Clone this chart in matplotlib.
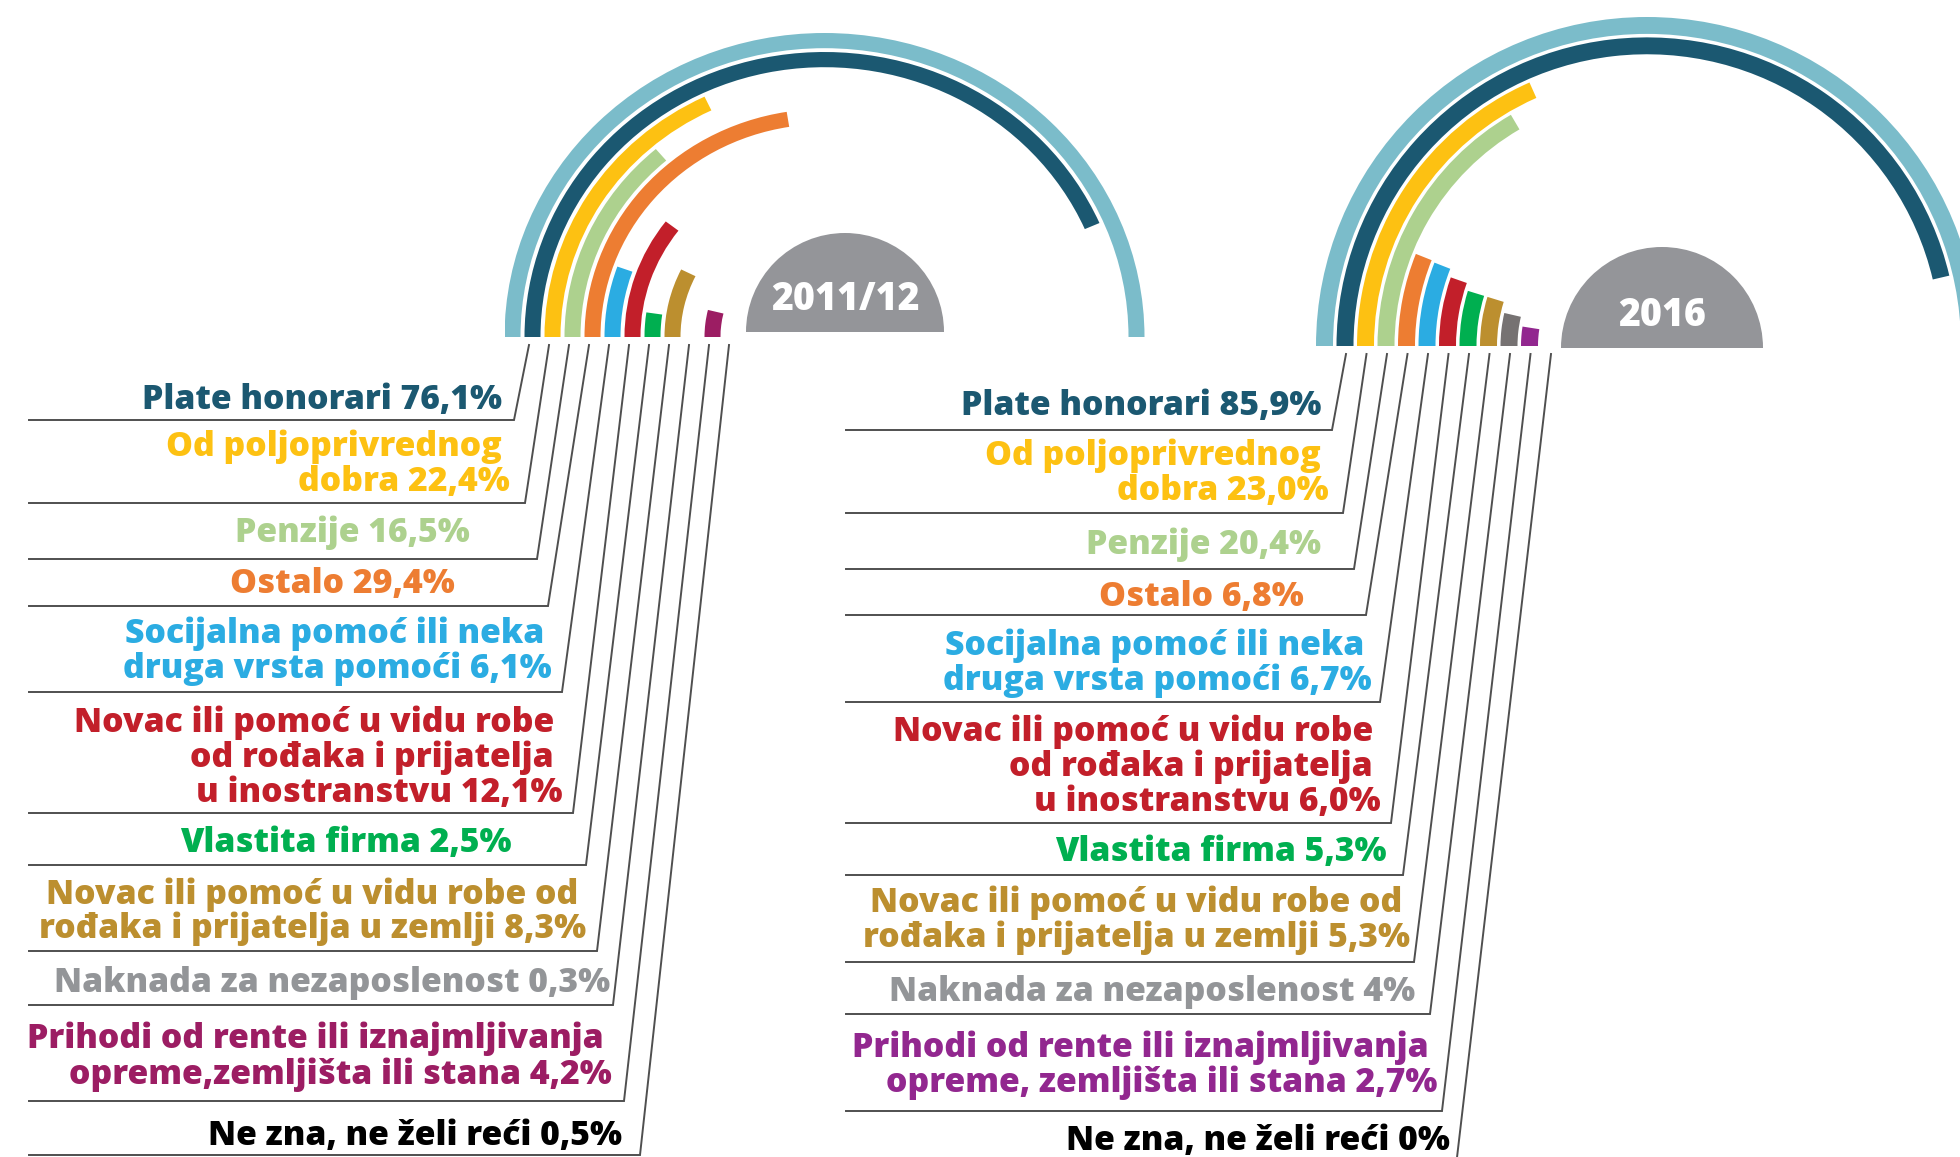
import matplotlib
matplotlib.use("Agg")
import matplotlib.pyplot as plt
from matplotlib.patches import Wedge
import numpy as np

W, H = 1960, 1157

# data
categories_2011 = ["Plate honorari", "Od poljoprivrednog\ndobra", "Penzije", "Ostalo",
                   "Socijalna pomoć ili neka\ndruga vrsta pomoći",
                   "Novac ili pomoć u vidu robe\nod rođaka i prijatelja\nu inostranstvu",
                   "Vlastita firma",
                   "Novac ili pomoć u vidu robe od\nrođaka i prijatelja u zemlji",
                   "Naknada za nezaposlenost",
                   "Prihodi od rente ili iznajmljivanja\nopreme,zemljišta ili stana",
                   "Ne zna, ne želi reći"]
values_2011 = [76.1, 22.4, 16.5, 29.4, 6.1, 12.1, 2.5, 8.3, 0.3, 4.2, 0.5]
pct_2011 = ["76,1%", "22,4%", "16,5%", "29,4%", "6,1%", "12,1%", "2,5%", "8,3%", "0,3%", "4,2%", "0,5%"]

categories_2016 = ["Plate honorari", "Od poljoprivrednog\ndobra", "Penzije", "Ostalo",
                   "Socijalna pomoć ili neka\ndruga vrsta pomoći",
                   "Novac ili pomoć u vidu robe\nod rođaka i prijatelja\nu inostranstvu",
                   "Vlastita firma",
                   "Novac ili pomoć u vidu robe od\nrođaka i prijatelja u zemlji",
                   "Naknada za nezaposlenost",
                   "Prihodi od rente ili iznajmljivanja\nopreme, zemljišta ili stana",
                   "Ne zna, ne želi reći"]
values_2016 = [85.9, 23.0, 20.4, 6.8, 6.7, 6.0, 5.3, 5.3, 4, 2.7, 0]
pct_2016 = ["85,9%", "23,0%", "20,4%", "6,8%", "6,7%", "6,0%", "5,3%", "5,3%", "4%", "2,7%", "0%"]

colors_2011 = ["#1B5871", "#FDC112", "#ADD18E", "#ED7D32", "#2BACE2", "#C21F2A",
               "#00AF50", "#BC8F2F", "#939598", "#9C1D63", "#000000"]
colors_2016 = ["#1B5871", "#FDC112", "#ADD18E", "#ED7D32", "#2BACE2", "#C21F2A",
               "#00AF50", "#BC8F2F", "#767272", "#92278F", "#000000"]
label_colors_2016 = colors_2016[:8] + ["#939598", "#92278F", "#000000"]
track = "#7BBCCA"
LINE = "#4F4F4F"
FONT = "Open Sans"


def sweep(v):
    # the infographic compresses long bars: ~3.4 deg per % for small shares
    return 236 * (1 - np.exp(-v / 70.0))


fig = plt.figure(figsize=(W / 100, H / 100), dpi=100)
ax = fig.add_axes([0, 0, 1, 1])
ax.set_xlim(0, W)
ax.set_ylim(H, 0)
ax.axis("off")


def draw_ring(cx, base, rx, ry, step, width, values, colors):
    rax = fig.add_axes([(cx - rx) / W, (H - base) / H, 2 * rx / W, ry / H])
    rax.set_xlim(-rx, rx)
    rax.set_ylim(0, rx)
    rax.axis("off")
    rax.add_patch(Wedge((0, 0), rx, 0, 180, width=width, color=track, lw=0))
    for i, (v, c) in enumerate(zip(values, colors)):
        if v < 1:  # shares under 1% are not drawn in the original
            continue
        r = rx - step * (i + 1)
        rax.add_patch(Wedge((0, 0), r, 180 - sweep(v), 180, width=width, color=c, lw=0))


def draw_labels(cats, pcts, colors, x_left, top_y, tops, corners, under_y, first_cy, right_x):
    for i in range(len(cats)):
        ax.plot([x_left, corners[i], tops[i]], [under_y[i], under_y[i], top_y],
                color=LINE, lw=1.4, solid_joinstyle="miter", zorder=2)
        lines = (cats[i] + " " + pcts[i]).split("\n")
        for k, ln in enumerate(lines):
            rx = right_x[i] if k == len(lines) - 1 else right_x[i] - 8
            ax.text(rx, first_cy[i] + 11 + 35 * k, ln, ha="right", va="baseline",
                    fontsize=24.3, fontweight=800, family=[FONT, "DejaVu Sans"],
                    color=colors[i], zorder=3)


def draw_year(cx, base, r, txt):
    ax.add_patch(Wedge((cx, base), r, 180, 360, color="#949599", lw=0))
    ax.text(cx, base - 22, txt, ha="center", va="baseline", color="white",
            fontsize=27, fontweight=800, family=[FONT, "DejaVu Sans"])


# 2011/12
draw_ring(824.5, 337, 320, 304, 20, 16, values_2011, colors_2011)
draw_year(845, 332, 99, "2011/12")
tops_l = [824.5 - (320 - 20 * (i + 1)) + 4.5 for i in range(11)]
corners_l = [514, 525, 537, 548, 562, 573, 586, 597, 613, 624, 640]
under_l = [420, 503, 559, 606, 692, 813, 865, 951, 1005, 1101, 1155]
cy_l = [397.5, 445, 531, 582.5, 632, 721, 841, 892.5, 981, 1037.5, 1134]
rx_l = [502, 510, 470, 455, 552, 562, 512, 586, 610, 612, 622]
draw_labels(categories_2011, pct_2011, colors_2011, 29, 345, tops_l, corners_l,
            under_l, cy_l, rx_l)

# 2016
draw_ring(1647, 346, 331, 329, 20.5, 17, values_2016, colors_2016)
draw_year(1662, 348, 101, "2016")
tops_r = [1647 - (331 - 20.5 * (i + 1)) + 9.5 for i in range(11)]
corners_r = [1332, 1343, 1354, 1366, 1380, 1391, 1403, 1414, 1430, 1442, 1456]
under_r = [430, 513, 569, 615, 702, 823, 875, 962, 1014, 1111, 1166]
cy_r = [404, 454, 542.5, 595, 644, 730, 850, 901, 990, 1046, 1139]
rx_r = [1321, 1329, 1321, 1304, 1372, 1381, 1387, 1410, 1415, 1437, 1450]
draw_labels(categories_2016, pct_2016, label_colors_2016, 846, 354, tops_r, corners_r,
            under_r, cy_r, rx_r)

fig.savefig("out.png", dpi=100)
